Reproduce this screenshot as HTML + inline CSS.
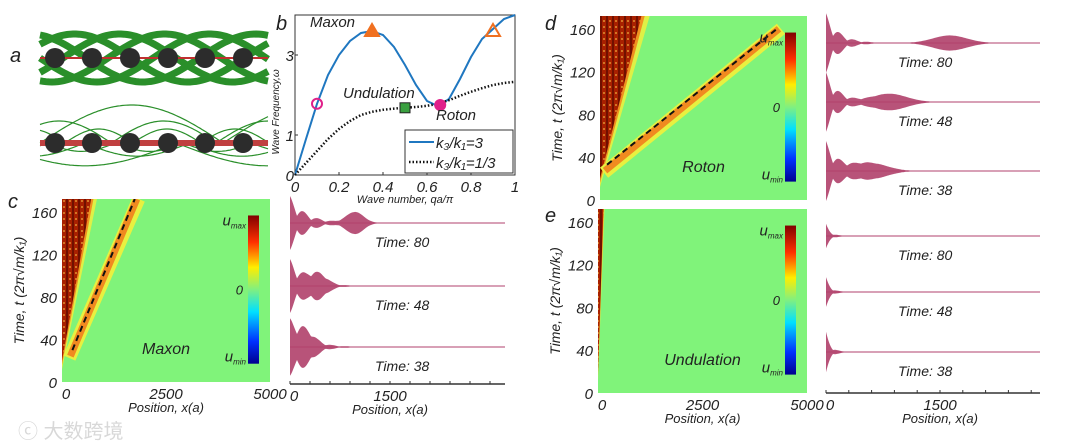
<!DOCTYPE html>
<html><head><meta charset="utf-8">
<style>
html,body{margin:0;padding:0;background:#fff;}
body{width:1080px;height:445px;overflow:hidden;position:relative;font-family:"Liberation Sans",sans-serif;}
svg{position:absolute;left:0;top:0;}
text{font-family:"Liberation Sans","Noto Sans CJK SC",sans-serif;font-style:italic;fill:#222;}
</style></head>
<body>
<svg id="fig" width="1080" height="445" viewBox="0 0 1080 445">
<defs id="defs">
<linearGradient id="jet" x1="0" y1="1" x2="0" y2="0">
<stop offset="0" stop-color="#00008f"/><stop offset="0.15" stop-color="#0030ff"/><stop offset="0.35" stop-color="#00e0ff"/><stop offset="0.5" stop-color="#80f080"/><stop offset="0.65" stop-color="#ffee00"/><stop offset="0.82" stop-color="#ff3000"/><stop offset="1" stop-color="#800000"/>
</linearGradient>
<pattern id="tex" width="6" height="6" patternUnits="userSpaceOnUse"><rect width="6" height="6" fill="#a82000"/><rect width="2" height="6" fill="#701000"/><circle cx="4" cy="3" r="1" fill="#e09030"/></pattern>
</defs>
<g id="panelA"></g>
<g id="panelB"></g>
<g id="heat"></g>
<g id="waves"></g>
<g>
<text x="10" y="62" font-size="20">a</text>
<text x="276" y="30" font-size="20">b</text>
<text x="8" y="208" font-size="20">c</text>
<text x="545" y="30" font-size="20">d</text>
<text x="545" y="222" font-size="20">e</text>
<text x="18" y="438" font-size="20" style="font-style:normal;fill:#d8d8d8">ⓒ 大数跨境</text>
</g>
</svg>
<script>
const NS='http://www.w3.org/2000/svg';
function mk(parent,tag,attrs,txt){const e=document.createElementNS(NS,tag);for(const k in attrs)e.setAttribute(k,attrs[k]);if(txt!==undefined)e.textContent=txt;parent.appendChild(e);return e;}

// ===== Panel b data =====
const qValues=[0,0.05,0.1,0.15,0.2,0.25,0.3,0.35,0.4,0.45,0.5,0.55,0.6,0.65,0.7,0.75,0.8,0.85,0.9,0.95,1];
const blueOmega=[0,0.9,1.78,2.5,3.0,3.35,3.55,3.6,3.5,3.2,2.75,2.25,1.85,1.72,1.9,2.4,2.95,3.4,3.65,3.9,4.0];
const dotOmega=[0,0.3,0.6,0.9,1.15,1.35,1.5,1.58,1.63,1.66,1.68,1.7,1.73,1.78,1.87,1.98,2.08,2.17,2.25,2.3,2.33];
const xTicksB=[0,0.2,0.4,0.6,0.8,1];
const xTickLabelsB=['0','0.2','0.4','0.6','0.8','1'];
const yTicksB=[0,1,3];
const markerQ=[0.1,0.35,0.5,0.66,0.9];
const markerW=[1.78,3.6,1.68,1.75,3.6];

const bx=v=>295+v*220, by=v=>175-v*40;
(function(){
 const g=document.getElementById('panelB');
 const r=mk(g,'rect',{x:295,y:15,width:220,height:160,fill:'#fff',stroke:'#333','stroke-width':1});
 
 xTicksB.forEach((t,i)=>{mk(g,'line',{x1:bx(t),x2:bx(t),y1:175,y2:172,stroke:'#333'});
  const tx=mk(g,'text',{x:bx(t),y:192,'font-size':15,'text-anchor':'middle'},xTickLabelsB[i]);
  });
 yTicksB.forEach(t=>{mk(g,'line',{x1:295,x2:298,y1:by(t),y2:by(t),stroke:'#333'});
  const tx=mk(g,'text',{x:294,y:by(t)+6,'font-size':15,'text-anchor':'end'},String(t));
  });
 const xl=mk(g,'text',{x:405,y:203,'font-size':11,'text-anchor':'middle'},'Wave number, qa/π');
 
 const yl=mk(g,'text',{x:0,y:0,'font-size':10,'text-anchor':'middle',transform:'translate(279,112) rotate(-90)'},'Wave Frequency,ω');
 
 const bp=qValues.map((q,i)=>bx(q)+','+by(blueOmega[i])).join(' ');
 const bl=mk(g,'polyline',{points:bp,fill:'none',stroke:'#1f77c0','stroke-width':2});
 
 const dp=qValues.map((q,i)=>bx(q)+','+by(dotOmega[i])).join(' ');
 const dl=mk(g,'polyline',{points:dp,fill:'none',stroke:'#111','stroke-width':2.5,'stroke-dasharray':'1.5 2'});
 
 let m;
 m=mk(g,'circle',{cx:bx(markerQ[0]),cy:by(markerW[0]),r:5,fill:'none',stroke:'#e0208a','stroke-width':2});
 
 const tri=(q,w,f)=>{const x=bx(q),y=by(w);return mk(g,'polygon',{points:`${x},${y-7} ${x-7},${y+5} ${x+7},${y+5}`,fill:f,stroke:'#f07020','stroke-width':2});};
 m=tri(markerQ[1],markerW[1],'#f07020');
 m=mk(g,'rect',{x:bx(markerQ[2])-5,y:by(markerW[2])-5,width:10,height:10,fill:'#3aa040',stroke:'#222'});
 
 m=mk(g,'circle',{cx:bx(markerQ[3]),cy:by(markerW[3]),r:6,fill:'#e0208a'});
 
 m=tri(markerQ[4],markerW[4],'none');
 [['Maxon',310,27],['Undulation',343,98],['Roton',436,120]].forEach(a=>{const t=mk(g,'text',{x:a[1],y:a[2],'font-size':15},a[0]);
  });
 const lg=mk(g,'g',{});
 mk(lg,'rect',{x:405,y:130,width:108,height:43,fill:'#fff',stroke:'#333'});
 mk(lg,'line',{x1:409,x2:434,y1:142,y2:142,stroke:'#1f77c0','stroke-width':2});
 mk(lg,'line',{x1:409,x2:434,y1:162,y2:162,stroke:'#111','stroke-width':2.5,'stroke-dasharray':'1.5 2'});
 mk(lg,'text',{x:436,y:148,'font-size':15},'k₃/k₁=3');
 mk(lg,'text',{x:436,y:168,'font-size':15},'k₃/k₁=1/3');
})();

// ===== Panel a illustration =====
(function(){
 const g=document.getElementById('panelA');
 const ballX=[55,92,130,168,205,243];
 for(let k=0;k<5;k++){let d='';for(let x=40;x<=268;x+=3){const y=58+24*Math.sin((x-40)/36+k*1.25);d+=(x===40?'M':'L')+x+','+y.toFixed(1);}
  mk(g,'path',{d:d,fill:'none',stroke:'#2a8f2a','stroke-width':7});}
 mk(g,'line',{x1:40,x2:268,y1:58,y2:58,stroke:'#c03030','stroke-width':2});
 ballX.forEach(x=>mk(g,'circle',{cx:x,cy:58,r:10,fill:'#2c2c2c'}));
 for(let k=0;k<3;k++){let d='';const amp=[38,22,14][k],per=[70,40,26][k];for(let x=40;x<=268;x+=2){const y=143-amp*Math.abs(Math.sin((x-40)/per*1.2+k));d+=(x===40?'M':'L')+x+','+y.toFixed(1);}
  mk(g,'path',{d:d,fill:'none',stroke:'#2a8f2a','stroke-width':1.2});
  let d2='';for(let x=40;x<=268;x+=2){const y=143+amp*0.6*Math.abs(Math.sin((x-40)/per*1.2+k+0.8));d2+=(x===40?'M':'L')+x+','+y.toFixed(1);}
  mk(g,'path',{d:d2,fill:'none',stroke:'#2a8f2a','stroke-width':1.2});}
 mk(g,'line',{x1:40,x2:268,y1:143,y2:143,stroke:'#c04040','stroke-width':6});
 ballX.forEach(x=>mk(g,'circle',{cx:x,cy:143,r:10,fill:'#2c2c2c'}));
})();

// ===== Heatmaps =====
const heatPanels=['c','d','e'];
const heatLabel=['Maxon','Roton','Undulation'];
const frontStartPos=[250,170,null];
const frontStartT=[30,33,null];
const frontEndPos=[1750,4275,null];
const frontEndT=[172,160,null];
const sourceWidthPos=[700,1000,130];
const yTicksH=[0,40,80,120,160];
const xTicksH=[0,2500,5000];
const heatBoxes=[[62,199,270,382],[600,16,807,200],[598,209,807,393]];
(function(){
 const g=document.getElementById('heat');
 const defs=document.getElementById('defs');
 heatPanels.forEach((p,i)=>{
  const [x0,y0,x1,y1]=heatBoxes[i];
  const X=v=>x0+v/5000*(x1-x0), T=v=>y1-v/172*(y1-y0);
  const cp=mk(defs,'clipPath',{id:'clip'+p});
  mk(cp,'rect',{x:x0,y:y0,width:x1-x0,height:y1-y0});
  const pg=mk(g,'g',{});
  const inner=mk(pg,'g',{'clip-path':`url(#clip${p})`});
  mk(inner,'rect',{x:x0,y:y0,width:x1-x0,height:y1-y0,fill:'#80f37a'});
  const sw=X(sourceWidthPos[i])-x0;
  mk(inner,'polygon',{points:`${x0},${T(12)} ${x0+sw*1.2},${y0} ${x0},${y0}`,fill:'#e8f040',opacity:0.9});
  mk(inner,'polygon',{points:`${x0},${T(16)} ${x0+sw*1.08},${y0} ${x0},${y0}`,fill:'#f09020'});
  mk(inner,'polygon',{points:`${x0},${T(20)} ${x0+sw},${y0} ${x0},${y0}`,fill:'url(#tex)'});
  if(frontStartPos[i]!==null){
   const ax=X(frontStartPos[i]),ay=T(frontStartT[i]),bxx=X(frontEndPos[i]),byy=T(frontEndT[i]);
   mk(inner,'line',{x1:ax-3,y1:ay+8,x2:bxx+4,y2:byy,stroke:'#e8f040','stroke-width':13});
   mk(inner,'line',{x1:ax-2,y1:ay+6,x2:bxx+2,y2:byy,stroke:'#f08a20','stroke-width':7});
   const dl=mk(inner,'line',{x1:ax,y1:ay,x2:bxx,y2:byy,stroke:'#111','stroke-width':2,'stroke-dasharray':'6 4'});
   
  }
  yTicksH.forEach(t=>{const tx=mk(pg,'text',{x:x0-5,y:T(t)+6,'font-size':15,'text-anchor':'end'},String(t));
   });
  if(i!==1){xTicksH.forEach((t,k)=>{const tx=mk(pg,'text',{x:X(t)+(k==0?4:0),y:y1+17,'font-size':15,'text-anchor':'middle'},String(t));
   });
   const xt=mk(pg,'text',{x:(x0+x1)/2,y:y1+30,'font-size':13,'text-anchor':'middle'},'Position, x(a)');
   }
  const yt=mk(pg,'text',{x:0,y:0,'font-size':14,'text-anchor':'middle',transform:`translate(${x0-38},${(y0+y1)/2}) rotate(-90)`},'Time, t (2π√m/k₁)');
  
  const lb=mk(pg,'text',{x:x0+(x1-x0)*0.5,y:y1-28,'font-size':16,'text-anchor':'middle'},heatLabel[i]);
  
  const cbx=x1-22,cby0=y0+(y1-y0)*0.09,cby1=y1-(y1-y0)*0.1;
  const cb=mk(pg,'rect',{x:cbx,y:cby0,width:11,height:cby1-cby0,fill:'url(#jet)'});
  
  const t1=mk(pg,'text',{x:cbx-2,y:cby0+10,'font-size':15,'text-anchor':'end'});t1.innerHTML='u<tspan font-size="8" dy="3">max</tspan>';
  mk(pg,'text',{x:cbx-5,y:(cby0+cby1)/2+5,'font-size':13,'text-anchor':'end'},'0');
  const t2=mk(pg,'text',{x:cbx-2,y:cby1-2,'font-size':15,'text-anchor':'end'});t2.innerHTML='u<tspan font-size="8" dy="3">min</tspan>';
 });
})();

// ===== Waveforms =====
const waveTimes=['Time: 80','Time: 48','Time: 38'];
const packetCenterC=[975,420,230];
const packetAmpC=[0.4,0.35,0.35];
const packetCenterD=[1630,840,580];
const packetAmpD=[0.28,0.3,0.28];
const packetCenterE=[0,0,0];
const packetAmpE=[0,0,0];
const burstAmp=[[1.0,1.0,1.0],[1.1,1.1,1.1],[0.45,0.55,0.75]];
const waveBoxes=[[290,505,[223,286,347],384,'c',100,16,12],[826,1040,[43,102,171],null,'d',114,13,24],[826,1040,[236,292,352],393,'e',114,5,4]];
const packetC=[packetCenterC,packetCenterD,packetCenterE];
const packetA=[packetAmpC,packetAmpD,packetAmpE];
(function(){
 const g=document.getElementById('waves');
 waveBoxes.forEach((wb,i)=>{
  const [x0,x1,bases,axisY,p,px1500,decay,pw]=wb;
  const X=v=>x0+v/1500*px1500;
  const pg=mk(g,'g',{});
  bases.forEach((b,k)=>{
   mk(pg,'line',{x1:x0,x2:x1,y1:b,y2:b,stroke:'#c05078','stroke-width':1});
   const H=27*burstAmp[i][k];
   let up=[],dn=[];
   const c=X(packetC[i][k]),pa=packetA[i][k];
   for(let x=x0;x<=x1;x+=1){
    const dx=x-x0;
    let a=H*Math.exp(-dx/decay)*(0.4+0.6*Math.abs(Math.cos(dx/4.5)));
    if(pa>0){a+=27*pa*Math.exp(-Math.pow((x-c)/pw,2));}
    a=Math.max(a,0.5);
    up.push(x+','+(b-a).toFixed(1));dn.unshift(x+','+(b+a).toFixed(1));
   }
   const poly=mk(pg,'polygon',{points:up.concat(dn).join(' '),fill:'#b0406a',opacity:0.9});
   
   const t=mk(pg,'text',{x:(i==0?375:898),y:b+24,'font-size':14},waveTimes[k]);
   
  });
  if(axisY){
   mk(pg,'line',{x1:x0,x2:x1,y1:axisY,y2:axisY,stroke:'#333','stroke-width':1.5});
   for(let v=0;v<=3300;v+=300)if(X(v)<=x1)mk(pg,'line',{x1:X(v),x2:X(v),y1:axisY,y2:axisY-3,stroke:'#333'});
   const t0=mk(pg,'text',{x:x0+4,y:axisY+17,'font-size':15,'text-anchor':'middle'},'0');
   
   const t1=mk(pg,'text',{x:X(1500),y:axisY+17,'font-size':15,'text-anchor':'middle'},'1500');
   
   const xt=mk(pg,'text',{x:X(1500),y:axisY+30,'font-size':13,'text-anchor':'middle'},'Position, x(a)');
   
  }
 });
})();
</script>
</body></html>
